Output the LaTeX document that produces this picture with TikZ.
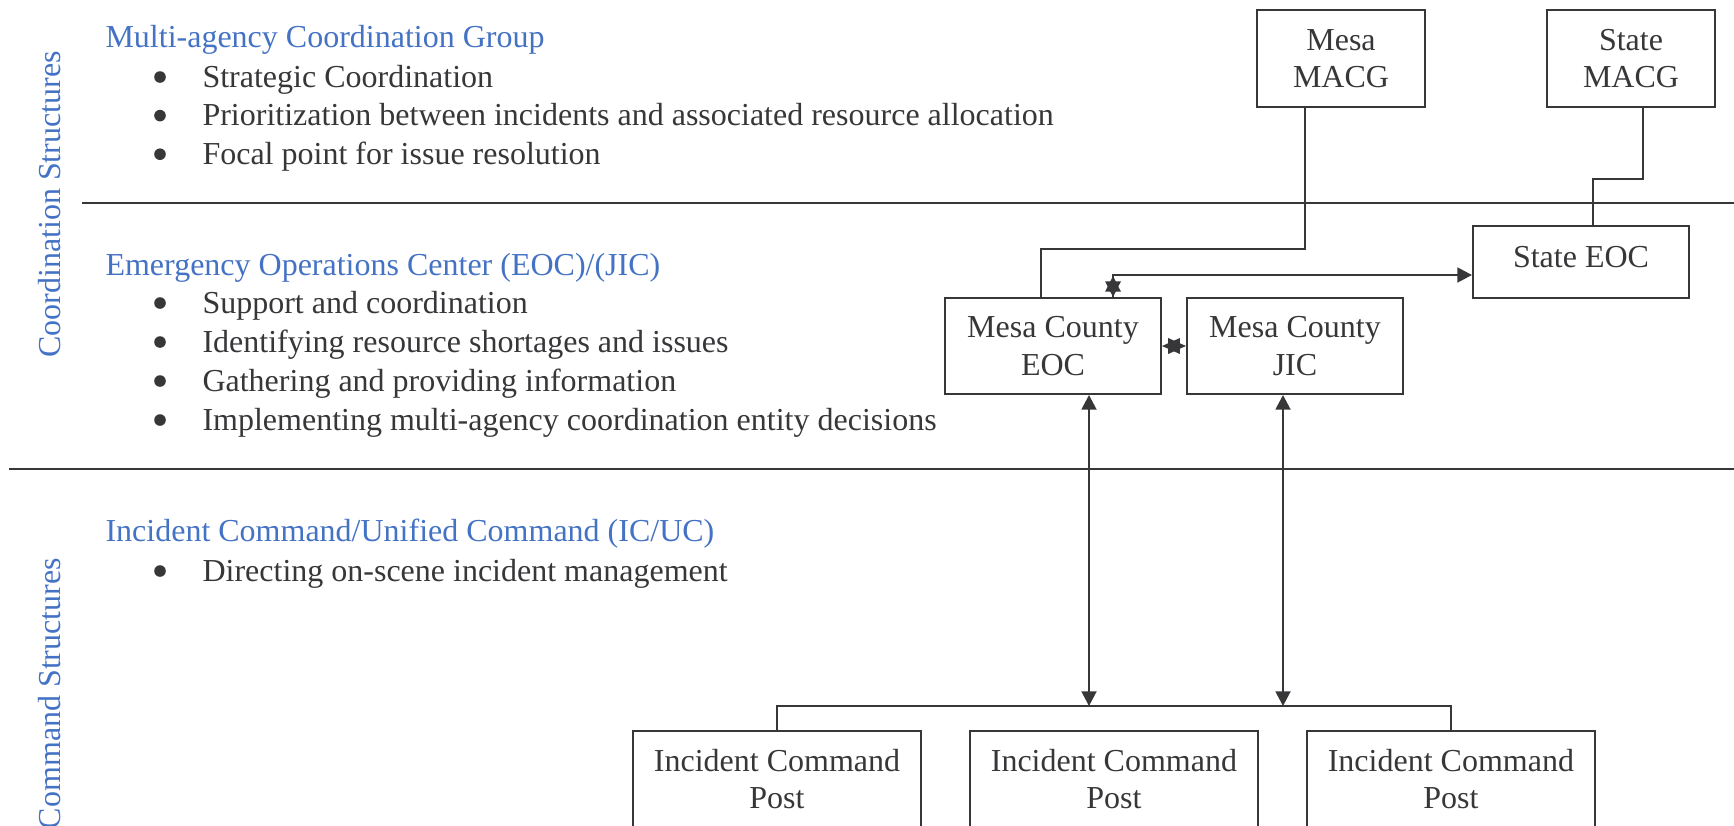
\documentclass[tikz,border=0pt]{standalone}
\usepackage{fontspec}
\setmainfont{Liberation Serif}
\usetikzlibrary{arrows.meta, positioning, calc}
\definecolor{ink}{RGB}{55,55,58}
\definecolor{head}{RGB}{68,114,196}

\begin{document}
\begin{tikzpicture}[
  x=0.375pt, y=-0.375pt,
  every node/.style={font=\fontsize{12pt}{14pt}\selectfont, text=ink},
  box/.style={draw=ink, line width=0.75pt, align=center, inner sep=0pt},
  tag/.style={text=head, anchor=base west, inner sep=0pt},
  item/.style={anchor=base west, inner sep=0pt},
  dot/.style={fill=ink},
  side/.style={text=head, rotate=90, anchor=base, inner sep=0pt},
  rule/.style={draw=ink, line width=0.55pt},
  link/.style={draw=ink, line width=0.75pt},
  arr/.style={-{Triangle[length=5.5pt,width=5.6pt]}},
  dbl/.style={{Triangle[length=5.5pt,width=5.6pt]}-{Triangle[length=5.5pt,width=5.6pt]}},
  twin/.style={{Triangle[length=#1,width=5.8pt]}-{Triangle[length=#1,width=5.8pt]}},
  twin/.default=6.5pt
]
\useasboundingbox (0,0) rectangle (1734,825);

% Section rules
\draw[rule] (82,203) -- (1734,203);
\draw[rule] (9,469) -- (1734,469);

% Side labels
\node[side] (coordlbl) at (60,204.5) {Coordination Structures};
\node[side] (cmdlbl) at (60,693.5) {Command Structures};

% MACG text
\node[tag] (macg) at (105,47) {Multi-agency Coordination Group};
\foreach \txt [count=\i from 0] in {Strategic Coordination,
    Prioritization between incidents and associated resource allocation,
    Focal point for issue resolution}{
  \fill[dot] (160,{77+38.6*\i}) circle[radius=5.8];
  \node[item] (macg\i) at (202,{87+38.6*\i}) {\txt};
}

% EOC text
\node[tag] (eocg) at (105,275) {Emergency Operations Center (EOC)/(JIC)};
\foreach \txt [count=\i from 0] in {Support and coordination,
    Identifying resource shortages and issues,
    Gathering and providing information,
    Implementing multi-agency coordination entity decisions}{
  \fill[dot] (160,{303+39*\i}) circle[radius=5.8];
  \node[item] (eocg\i) at (202,{313+39*\i}) {\txt};
}

% IC/UC text
\node[tag] (icuc) at (105,541) {Incident Command/Unified Command (IC/UC)};
\fill[dot] (160,571) circle[radius=5.8];
\node[item] (icuc0) at (202,581) {Directing on-scene incident management};

% Coordination boxes
\node[box, minimum width=63pt, minimum height=36.4pt] (mmacg) at (1341,58.5) {Mesa\\MACG};
\node[box, minimum width=63pt, minimum height=36.4pt, right=45pt of mmacg] (smacg) {State\\MACG};
\node[box, minimum width=81pt, minimum height=27pt, text depth=4pt] (seoc) at (1581,262) {State EOC};
\node[box, minimum width=81pt, minimum height=36pt] (eoc) at (1053,346) {Mesa County\\EOC};
\node[box, minimum width=81pt, minimum height=36pt, right=9pt of eoc] (jic) {Mesa County\\JIC};

% Command boxes
\node[box, minimum width=108pt, minimum height=36pt] (icp1) at (777,779) {Incident Command\\Post};
\node[box, minimum width=108pt, minimum height=36pt, right=17.6pt of icp1] (icp2) {Incident Command\\Post};
\node[box, minimum width=108pt, minimum height=36pt, right=17.6pt of icp2] (icp3) {Incident Command\\Post};

% MACG links
\draw[link] ($(mmacg.south)+(-36,0)$) |- ($(eoc.north)+(-12,-48)$) -- ($(eoc.north)+(-12,0)$);
\draw[link] ($(smacg.south)+(12,0)$) -- ++(0,71) -| ($(seoc.north)+(12,0)$);

% EOC links
\coordinate (e2) at ($(eoc.north)+(60,0)$);
\draw[link, arr] (e2) |- ($(seoc.west)+(0,13)$);
\draw[link, twin=5.9pt] (e2) -- ++(0,-21);
\draw[link, twin=6.7pt] (eoc) -- (jic);

% Command post bus
\draw[link] (icp1.north) -- ++(0,-24) coordinate (bus) -| (icp3.north);
\coordinate (e1) at ($(eoc.south)+(36,0)$);
\coordinate (j1) at ($(jic.south)+(-12,0)$);
\draw[link, dbl] (e1) -- (e1 |- bus);
\draw[link, dbl] (j1) -- (j1 |- bus);

\end{tikzpicture}
\end{document}
